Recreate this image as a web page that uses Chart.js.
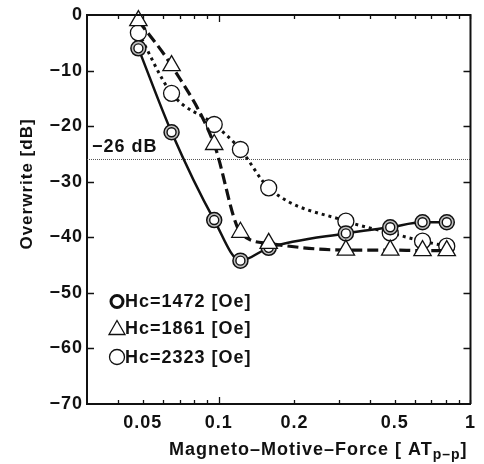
<!DOCTYPE html>
<html>
<head>
<meta charset="utf-8">
<script src="https://cdn.jsdelivr.net/npm/chart.js@4.4.1/dist/chart.umd.min.js"></script>
<style>
  html, body { margin: 0; padding: 0; background: #fff; }
  #wrap { width: 484px; height: 464px; }
</style>
</head>
<body>
<div id="wrap"><canvas id="chart" width="484" height="464"></canvas></div>
<script>
// Overwrite vs. magneto-motive-force, three media coercivities

const mmf = [0.048, 0.065, 0.096, 0.122, 0.158, 0.32, 0.48, 0.645, 0.805];
const hc1472 = [-6.0, -21.1, -36.9, -44.2, -41.9, -39.3, -38.2, -37.3, -37.3];
const hc1861 = [-1.0, -9.1, -23.3, -39.1, -41.1, -42.3, -42.3, -42.4, -42.4];
const hc2323 = [-3.2, -14.1, -19.7, -24.2, -31.1, -37.1, -39.2, -40.7, -41.6];
const seriesNames = ['Hc=1472 [Oe]', 'Hc=1861 [Oe]', 'Hc=2323 [Oe]'];

const xRange = [0.03, 1];
const yRange = [-70, 0];
const xTicks = [0.04, 0.05, 0.06, 0.07, 0.08, 0.09, 0.1, 0.2, 0.3, 0.4, 0.5, 0.6, 0.7, 0.8, 0.9, 1];
const xLabels = [0.05, 0.1, 0.2, 0.5, 1];
const yTicks = [-70, -60, -50, -40, -30, -20, -10, 0];
const limitDb = -26;

const INK = '#111';
const FONT = '"Liberation Sans", Arial, sans-serif';

const toPoints = (ys) => mmf.map((x, i) => ({ x: x, y: ys[i] }));
const minus = (s) => String(s).replace('-', '\u2212');

// inward ticks, frame, titles and the inset legend
const decorations = {
  id: 'decorations',
  beforeLayout(chart) { chart.ctx.letterSpacing = '1px'; },
  beforeDraw(chart) { chart.ctx.letterSpacing = '1px'; },
  afterDraw(chart) {
    const ctx = chart.ctx;
    const a = chart.chartArea;
    const xs = chart.scales.x;
    const ys = chart.scales.y;
    ctx.save();
    ctx.strokeStyle = INK;
    ctx.lineWidth = 2;
    ctx.beginPath();
    ctx.moveTo(a.left, a.top);
    ctx.lineTo(a.right, a.top);
    ctx.lineTo(a.right, a.bottom);
    ctx.stroke();

    ctx.lineWidth = 1.3;
    ctx.beginPath();
    xTicks.forEach(v => {
      const px = Math.round(xs.getPixelForValue(v)) + 0.5;
      const len = v === 0.1 ? 7 : 4;
      ctx.moveTo(px, a.bottom);
      ctx.lineTo(px, a.bottom - len);
      ctx.moveTo(px, a.top);
      ctx.lineTo(px, a.top + len);
    });
    yTicks.slice(1, -1).forEach(v => {
      const py = Math.round(ys.getPixelForValue(v)) + 0.5;
      ctx.moveTo(a.left, py);
      ctx.lineTo(a.left + 7, py);
      ctx.moveTo(a.right, py);
      ctx.lineTo(a.right - 7, py);
    });
    ctx.stroke();

    ctx.fillStyle = INK;
    ctx.letterSpacing = '1px';
    ctx.font = 'bold 18px ' + FONT;
    ctx.textBaseline = 'middle';
    ctx.textAlign = 'left';
    ctx.fillText('\u221226 dB', a.left + 5, ys.getPixelForValue(limitDb) - 12);

    // x title with subscript
    const main = 'Magneto\u2013Motive\u2013Force [ AT';
    ctx.textBaseline = 'alphabetic';
    let tx = 169;
    ctx.fillText(main, tx, 455);
    tx += ctx.measureText(main).width;
    ctx.font = 'bold 14px ' + FONT;
    ctx.fillText('p\u2013p', tx, 459);
    tx += ctx.measureText('p\u2013p').width;
    ctx.font = 'bold 18px ' + FONT;
    ctx.fillText(']', tx, 455);

    // y title
    ctx.save();
    ctx.translate(27, 184);
    ctx.rotate(-Math.PI / 2);
    ctx.font = 'bold 17px ' + FONT;
    ctx.textAlign = 'center';
    ctx.textBaseline = 'middle';
    ctx.fillText('Overwrite [dB]', 0, 0);
    ctx.restore();

    // legend
    const rows = [301.5, 328.5, 357];
    const mx = 117;
    ctx.fillStyle = '#fff';
    ctx.strokeStyle = INK;
    ctx.lineWidth = 3;
    ctx.beginPath();
    ctx.arc(mx, rows[0], 6, 0, Math.PI * 2);
    ctx.fill();
    ctx.stroke();
    ctx.lineWidth = 1.3;
    ctx.beginPath();
    ctx.moveTo(mx, rows[1] - 8);
    ctx.lineTo(mx + 8, rows[1] + 6);
    ctx.lineTo(mx - 8, rows[1] + 6);
    ctx.closePath();
    ctx.fill();
    ctx.stroke();
    ctx.beginPath();
    ctx.arc(mx, rows[2], 7.5, 0, Math.PI * 2);
    ctx.fill();
    ctx.stroke();
    ctx.fillStyle = INK;
    ctx.font = 'bold 18px ' + FONT;
    ctx.textAlign = 'left';
    ctx.textBaseline = 'middle';
    seriesNames.forEach((name, i) => ctx.fillText(name, 125, rows[i] + 1));
    ctx.restore();
  }
};

new Chart(document.getElementById('chart'), {
  type: 'line',
  data: {
    datasets: [
      {
        label: seriesNames[1],
        data: toPoints(hc1861),
        order: 0,
        clip: false,
        borderColor: INK,
        borderWidth: 3.2,
        borderDash: [11, 5],
        cubicInterpolationMode: 'monotone',
        pointStyle: 'triangle',
        pointRadius: 10,
        pointBorderWidth: 1.3,
        pointBorderColor: INK,
        pointBackgroundColor: '#fff'
      },
      {
        // inner ring of the double circle markers
        label: seriesNames[0] + ' inner',
        data: toPoints(hc1472),
        order: 1,
        clip: false,
        showLine: false,
        pointRadius: 4.5,
        pointBorderWidth: 1.4,
        pointBorderColor: INK,
        pointBackgroundColor: '#fff'
      },
      {
        label: seriesNames[0],
        data: toPoints(hc1472),
        order: 2,
        clip: false,
        borderColor: INK,
        borderWidth: 2.5,
        cubicInterpolationMode: 'monotone',
        pointRadius: 7.5,
        pointBorderWidth: 1.5,
        pointBorderColor: INK,
        pointBackgroundColor: '#bdbdbd'
      },
      {
        label: seriesNames[2],
        data: toPoints(hc2323),
        order: 3,
        clip: false,
        borderColor: INK,
        borderWidth: 3,
        borderDash: [3, 4],
        cubicInterpolationMode: 'monotone',
        pointRadius: 8,
        pointBorderWidth: 1.3,
        pointBorderColor: INK,
        pointBackgroundColor: '#fff'
      },
      {
        label: '-26 dB',
        data: xRange.map(x => ({ x: x, y: limitDb })),
        order: 4,
        borderColor: '#555',
        borderWidth: 1,
        borderDash: [1, 1],
        pointRadius: 0
      }
    ]
  },
  options: {
    responsive: false,
    animation: false,
    devicePixelRatio: 1,
    layout: { padding: { top: 15, right: 5, left: 0, bottom: 0 } },
    plugins: { legend: { display: false }, tooltip: { enabled: false } },
    scales: {
      x: {
        type: 'logarithmic',
        min: xRange[0],
        max: xRange[1],
        afterBuildTicks: s => { s.ticks = xTicks.map(v => ({ value: v })); },
        afterFit: s => { s.height = 60; },
        grid: { drawOnChartArea: false, drawTicks: false },
        border: { color: INK, width: 2 },
        ticks: {
          autoSkip: false,
          maxRotation: 0,
          padding: 8,
          color: INK,
          font: { family: FONT, size: 18, weight: 'bold' },
          callback: v => xLabels.includes(v) ? String(v) : ''
        }
      },
      y: {
        type: 'linear',
        min: yRange[0],
        max: yRange[1],
        afterBuildTicks: s => { s.ticks = yTicks.map(v => ({ value: v })); },
        afterFit: s => { s.width = 87; },
        grid: { drawOnChartArea: false, drawTicks: false },
        border: { color: INK, width: 2 },
        ticks: {
          padding: 4,
          color: INK,
          font: { family: FONT, size: 18, weight: 'bold' },
          callback: v => minus(v)
        }
      }
    }
  },
  plugins: [decorations]
});
</script>
</body>
</html>
